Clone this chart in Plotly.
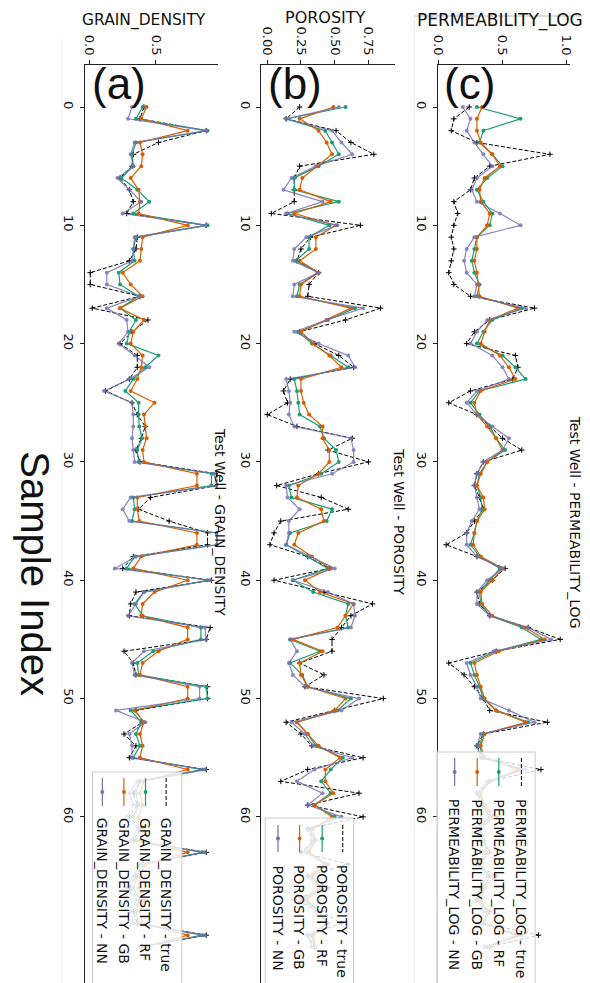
import plotly.graph_objects as go

# ---------------- data ----------------
sample_index = list(range(72))
index_ticks = [0, 10, 20, 30, 40, 50, 60]

gd_true = [.41,.38,.88,.52,.33,.32,.23,.30,.33,.28,
           .88,.36,.35,.30,.005,.005,.38,.02,.44,.32,
           .23,.36,.36,.30,.12,.32,.36,.42,.39,.35,
           .38,.96,.96,.46,.37,.60,.89,.89,.33,.25,
           .92,.35,.31,.30,.91,.88,.26,.33,.35,.89,
           .89,.35,.40,.26,.35,.30,.88,.38,.33,.36,
           .30,.38,.33,.88,.40,.35,.30,.38,.33,.36,.88,.40]
gd_rf = [.40,.35,.89,.35,.32,.33,.24,.36,.45,.33,
         .89,.35,.33,.34,.22,.23,.37,.23,.35,.30,
         .28,.52,.42,.33,.27,.37,.37,.375,.395,.36,
         .37,.92,.92,.33,.34,.32,.96,.96,.34,.28,
         .89,.41,.34,.40,.84,.84,.48,.36,.37,.88,
         .89,.31,.39,.35,.38,.33,.85,.38,.35,.37,
         .33,.38,.35,.85,.40,.36,.33,.38,.35,.37,.85,.40]
gd_gb = [.43,.39,.74,.38,.40,.39,.31,.37,.38,.37,
         .74,.40,.39,.38,.25,.31,.40,.23,.41,.33,
         .31,.40,.39,.36,.31,.49,.41,.42,.43,.40,
         .41,.81,.81,.36,.36,.375,.81,.81,.39,.33,
         .74,.49,.40,.39,.74,.74,.52,.40,.38,.74,
         .74,.34,.41,.38,.40,.38,.74,.41,.38,.40,
         .37,.41,.38,.74,.42,.38,.37,.41,.38,.40,.74,.42]
gd_nn = [.32,.29,.88,.34,.31,.33,.21,.30,.39,.25,
         .88,.34,.33,.32,.13,.13,.38,.13,.28,.29,
         .22,.34,.45,.30,.11,.32,.33,.33,.32,.33,
         .34,.94,.96,.31,.25,.30,.96,.96,.35,.19,
         .91,.41,.35,.29,.87,.88,.41,.32,.34,.83,
         .83,.20,.42,.30,.32,.32,.87,.36,.30,.33,
         .28,.36,.31,.87,.38,.33,.28,.36,.31,.33,.87,.38]

po_true = [.24,.14,.51,.62,.79,.24,.20,.20,.20,.03,
           .69,.32,.25,.22,.38,.31,.30,.84,.58,.24,
           .35,.53,.64,.17,.12,.15,.00,.22,.63,.45,
           .75,.38,.07,.40,.60,.10,.05,.02,.30,.46,
           .05,.42,.78,.62,.55,.48,.48,.24,.42,.28,
           .86,.50,.14,.25,.33,.71,.30,.10,.68,.30,
           .71,.30,.35,.25,.60,.30,.45,.20,.40,.55,.30,.35]
po_rf = [.58,.14,.43,.48,.53,.38,.20,.20,.53,.15,
         .46,.31,.31,.21,.38,.24,.22,.65,.45,.23,
         .33,.47,.60,.20,.22,.23,.24,.39,.42,.51,
         .53,.40,.16,.18,.48,.44,.17,.14,.30,.45,
         .19,.34,.60,.58,.60,.17,.39,.17,.26,.30,
         .62,.52,.22,.30,.36,.56,.47,.40,.47,.35,
         .50,.32,.35,.30,.45,.32,.40,.28,.38,.45,.33,.35]
po_gb = [.49,.24,.38,.44,.48,.37,.26,.24,.47,.20,
         .51,.36,.36,.24,.38,.25,.24,.62,.44,.25,
         .34,.46,.55,.25,.25,.27,.31,.41,.41,.46,
         .46,.38,.23,.22,.40,.42,.23,.20,.33,.47,
         .28,.39,.64,.58,.52,.19,.41,.24,.25,.30,
         .58,.50,.22,.30,.38,.54,.43,.43,.49,.35,
         .48,.34,.36,.31,.44,.33,.41,.29,.39,.44,.34,.36]
po_nn = [.53,.14,.48,.55,.63,.36,.18,.12,.41,.14,
         .52,.29,.20,.19,.38,.20,.19,.71,.44,.20,
         .38,.60,.65,.14,.16,.17,.16,.20,.62,.64,
         .64,.48,.14,.15,.24,.16,.16,.14,.32,.50,
         .19,.45,.64,.65,.62,.17,.22,.16,.19,.28,
         .68,.55,.18,.28,.34,.63,.35,.22,.41,.30,
         .55,.30,.33,.28,.42,.30,.38,.26,.36,.45,.30,.33]

pl_true = [.24,.12,.10,.30,.87,.40,.28,.25,.12,.15,
           .12,.10,.12,.10,.08,.12,.25,.75,.40,.28,
           .22,.60,.62,.58,.25,.08,.30,.40,.50,.65,
           .35,.30,.28,.32,.35,.28,.22,.06,.30,.52,
           .42,.30,.32,.40,.70,.95,.45,.08,.20,.28,
           .35,.40,.85,.35,.30,.35,.80,.40,.30,.35,
           .45,.30,.35,.40,.30,.45,.35,.30,.40,.35,.78,.40]
pl_rf = [.30,.64,.35,.32,.42,.50,.38,.30,.35,.42,
         .40,.30,.28,.26,.28,.32,.30,.65,.42,.35,
         .30,.50,.60,.68,.32,.25,.32,.40,.45,.52,
         .38,.32,.30,.33,.34,.30,.28,.25,.32,.48,
         .40,.32,.33,.40,.65,.80,.45,.25,.28,.32,
         .35,.45,.70,.35,.32,.35,.65,.40,.32,.35,
         .40,.32,.35,.38,.32,.40,.35,.32,.38,.35,.62,.38]
pl_gb = [.34,.30,.30,.33,.42,.48,.36,.32,.33,.40,
         .38,.30,.30,.28,.30,.31,.32,.62,.40,.36,
         .33,.48,.55,.60,.33,.28,.30,.38,.45,.50,
         .38,.33,.30,.35,.36,.30,.28,.27,.33,.50,
         .42,.33,.34,.42,.68,.83,.47,.28,.30,.33,
         .36,.45,.68,.36,.33,.36,.62,.40,.33,.36,
         .42,.33,.36,.38,.33,.40,.36,.33,.38,.36,.60,.40]
pl_nn = [.19,.25,.22,.28,.35,.42,.30,.26,.30,.48,
         .64,.28,.22,.20,.22,.30,.28,.68,.38,.30,
         .25,.42,.50,.55,.30,.22,.30,.42,.55,.50,
         .35,.30,.28,.30,.32,.26,.22,.22,.30,.50,
         .38,.30,.30,.40,.70,.88,.43,.22,.25,.30,
         .33,.55,.75,.33,.30,.33,.68,.38,.30,.33,
         .40,.30,.33,.36,.30,.38,.33,.30,.36,.33,.65,.36]

series_names = ["true", "RF", "GB", "NN"]
props = ["GRAIN_DENSITY", "POROSITY", "PERMEABILITY_LOG"]
panel_letters = ["(a)", "(b)", "(c)"]
values = {
    "GRAIN_DENSITY": [gd_true, gd_rf, gd_gb, gd_nn],
    "POROSITY": [po_true, po_rf, po_gb, po_nn],
    "PERMEABILITY_LOG": [pl_true, pl_rf, pl_gb, pl_nn],
}
value_ticks = {
    "GRAIN_DENSITY": ([0, 0.5], ["0.0", "0.5"]),
    "POROSITY": ([0, 0.25, 0.5, 0.75], ["0.00", "0.25", "0.50", "0.75"]),
    "PERMEABILITY_LOG": ([0, 0.5, 1.0], ["0.0", "0.5", "1.0"]),
}

# ---------------- layout helpers (pixel -> paper) ----------------
W, H = 590, 983
def px(x): return x / W
def py(y): return 1 - y / H

FONT = "DejaVu Sans"
BIG = "Liberation Sans"
colors = ["#000000", "#1b9e77", "#d95f02", "#7570b3"]

geo = [
    dict(x0=71, x1=207, vr=[-0.037, 0.970], title_x=209, letter_x=106,
         leg=dict(bx=(79, 170), by=(764, 992), cols=[154, 133, 111, 89], s=(770, 798), txt=808),
         head=(131, 13, 15.5)),
    dict(x0=251, x1=387, vr=[-0.044, 0.945], title_x=391, letter_x=285,
         leg=dict(bx=(255, 345), by=(810, 992), cols=[334, 313, 290, 268], s=(817, 844), txt=855),
         head=(316, 9, 16)),
    dict(x0=431, x1=566, vr=[-0.004, 1.030], title_x=571, letter_x=463,
         leg=dict(bx=(430, 530), by=(744, 992), cols=[516, 493, 471, 448], s=(750, 778), txt=789),
         head=(494, 13, 17)),
]
top_px = 57
bottom_px = 981
y_range = [74.55, -3.55]

fig = go.Figure()
shapes = []
annotations = []

for k, prop in enumerate(props):
    g = geo[k]
    xa = "x" if k == 0 else f"x{k+1}"
    ya = "y" if k == 0 else f"y{k+1}"
    for s, name in enumerate(series_names):
        vals = values[prop][s]
        if s == 0:
            line = dict(color="black", width=1, dash="4px,2px")
            marker = dict(symbol="cross-thin", size=4, line=dict(width=1, color="black"))
            op = 1.0
        else:
            line = dict(color=colors[s], width=1.2)
            marker = dict(symbol="circle", size=4, color=colors[s])
            op = 0.85 if s == 3 else 1.0
        fig.add_trace(go.Scatter(
            x=vals, y=sample_index, mode="lines+markers", name=f"{prop} - {name}",
            line=line, marker=marker, opacity=op, xaxis=xa, yaxis=ya, showlegend=False))

    tv, tt = value_ticks[prop]
    axis_common = dict(showline=True, linecolor="#222", linewidth=1, ticks="outside",
                       ticklen=4, tickcolor="#222", tickangle=90, showgrid=False,
                       zeroline=False, tickfont=dict(family=FONT, size=13, color="#111"))
    fig.update_layout(**{
        ("xaxis" if k == 0 else f"xaxis{k+1}"): dict(
            domain=[px(g["x0"]), px(g["x1"])], range=g["vr"], side="top",
            anchor=ya, tickvals=tv, ticktext=tt, **axis_common),
        ("yaxis" if k == 0 else f"yaxis{k+1}"): dict(
            domain=[py(bottom_px), py(top_px)], range=y_range, side="left", anchor=xa,
            tickvals=index_ticks, **axis_common),
    })

    annotations.append(dict(text=f"Test Well - {prop}", x=px(g["title_x"]), y=py(514),
                            xref="paper", yref="paper", showarrow=False, textangle=90,
                            xanchor="center", yanchor="middle",
                            font=dict(family=FONT, size=14, color="#111")))
    annotations.append(dict(text=prop, x=px(g["head"][0]), y=py(g["head"][1]),
                            xref="paper", yref="paper", showarrow=False,
                            xanchor="center", yanchor="middle",
                            font=dict(family=FONT, size=g["head"][2], color="#111")))
    annotations.append(dict(text=panel_letters[k], x=px(g["letter_x"]), y=py(76),
                            xref="paper", yref="paper", showarrow=False,
                            xanchor="center", yanchor="middle",
                            font=dict(family=BIG, size=44, color="#111")))

    L = g["leg"]
    shapes.append(dict(type="rect", xref="paper", yref="paper",
                       x0=px(L["bx"][0]), x1=px(L["bx"][1]), y0=py(L["by"][1]), y1=py(L["by"][0]),
                       fillcolor="rgba(255,255,255,0.8)", line=dict(color="#cccccc", width=1),
                       layer="above"))
    for s, name in enumerate(series_names):
        cx = L["cols"][s]
        if s == 0:
            shapes.append(dict(type="line", xref="paper", yref="paper", x0=px(cx), x1=px(cx),
                               y0=py(L["s"][0]), y1=py(L["s"][1]),
                               line=dict(color="black", width=1, dash="4px,2px"), layer="above"))
        else:
            shapes.append(dict(type="line", xref="paper", yref="paper", x0=px(cx), x1=px(cx),
                               y0=py(L["s"][0]), y1=py(L["s"][1]),
                               line=dict(color=colors[s], width=1.2), layer="above"))
            mid = (L["s"][0] + L["s"][1]) / 2
            shapes.append(dict(type="circle", xref="paper", yref="paper",
                               x0=px(cx - 2), x1=px(cx + 2), y0=py(mid + 2), y1=py(mid - 2),
                               fillcolor=colors[s], line=dict(width=0), layer="above"))
        annotations.append(dict(text=f"{prop} - {name}", x=px(cx), y=py(L["txt"]),
                                xref="paper", yref="paper", showarrow=False, textangle=90,
                                xanchor="center", yanchor="top",
                                font=dict(family=FONT, size=14, color="#111")))

annotations.append(dict(text="Sample Index", x=px(20), y=py(566), xref="paper", yref="paper",
                        showarrow=False, textangle=90, xanchor="center", yanchor="middle",
                        font=dict(family=BIG, size=40, color="#111")))

shapes.append(dict(type="line", xref="paper", yref="paper", x0=px(407), x1=1, y0=py(8), y1=py(8),
                   line=dict(color="#bbbbbb", width=1)))
shapes.append(dict(type="line", xref="paper", yref="paper", x0=px(407), x1=px(407), y0=0, y1=py(8),
                   line=dict(color="#eeeeee", width=1)))
shapes.append(dict(type="line", xref="paper", yref="paper", x0=px(48), x1=px(48), y0=0, y1=py(30),
                   line=dict(color="#eeeeee", width=1)))

fig.update_layout(width=W, height=H, margin=dict(l=0, r=0, t=0, b=0),
                  paper_bgcolor="white", plot_bgcolor="white",
                  shapes=shapes, annotations=annotations, showlegend=False)

fig.write_html("out.html")
